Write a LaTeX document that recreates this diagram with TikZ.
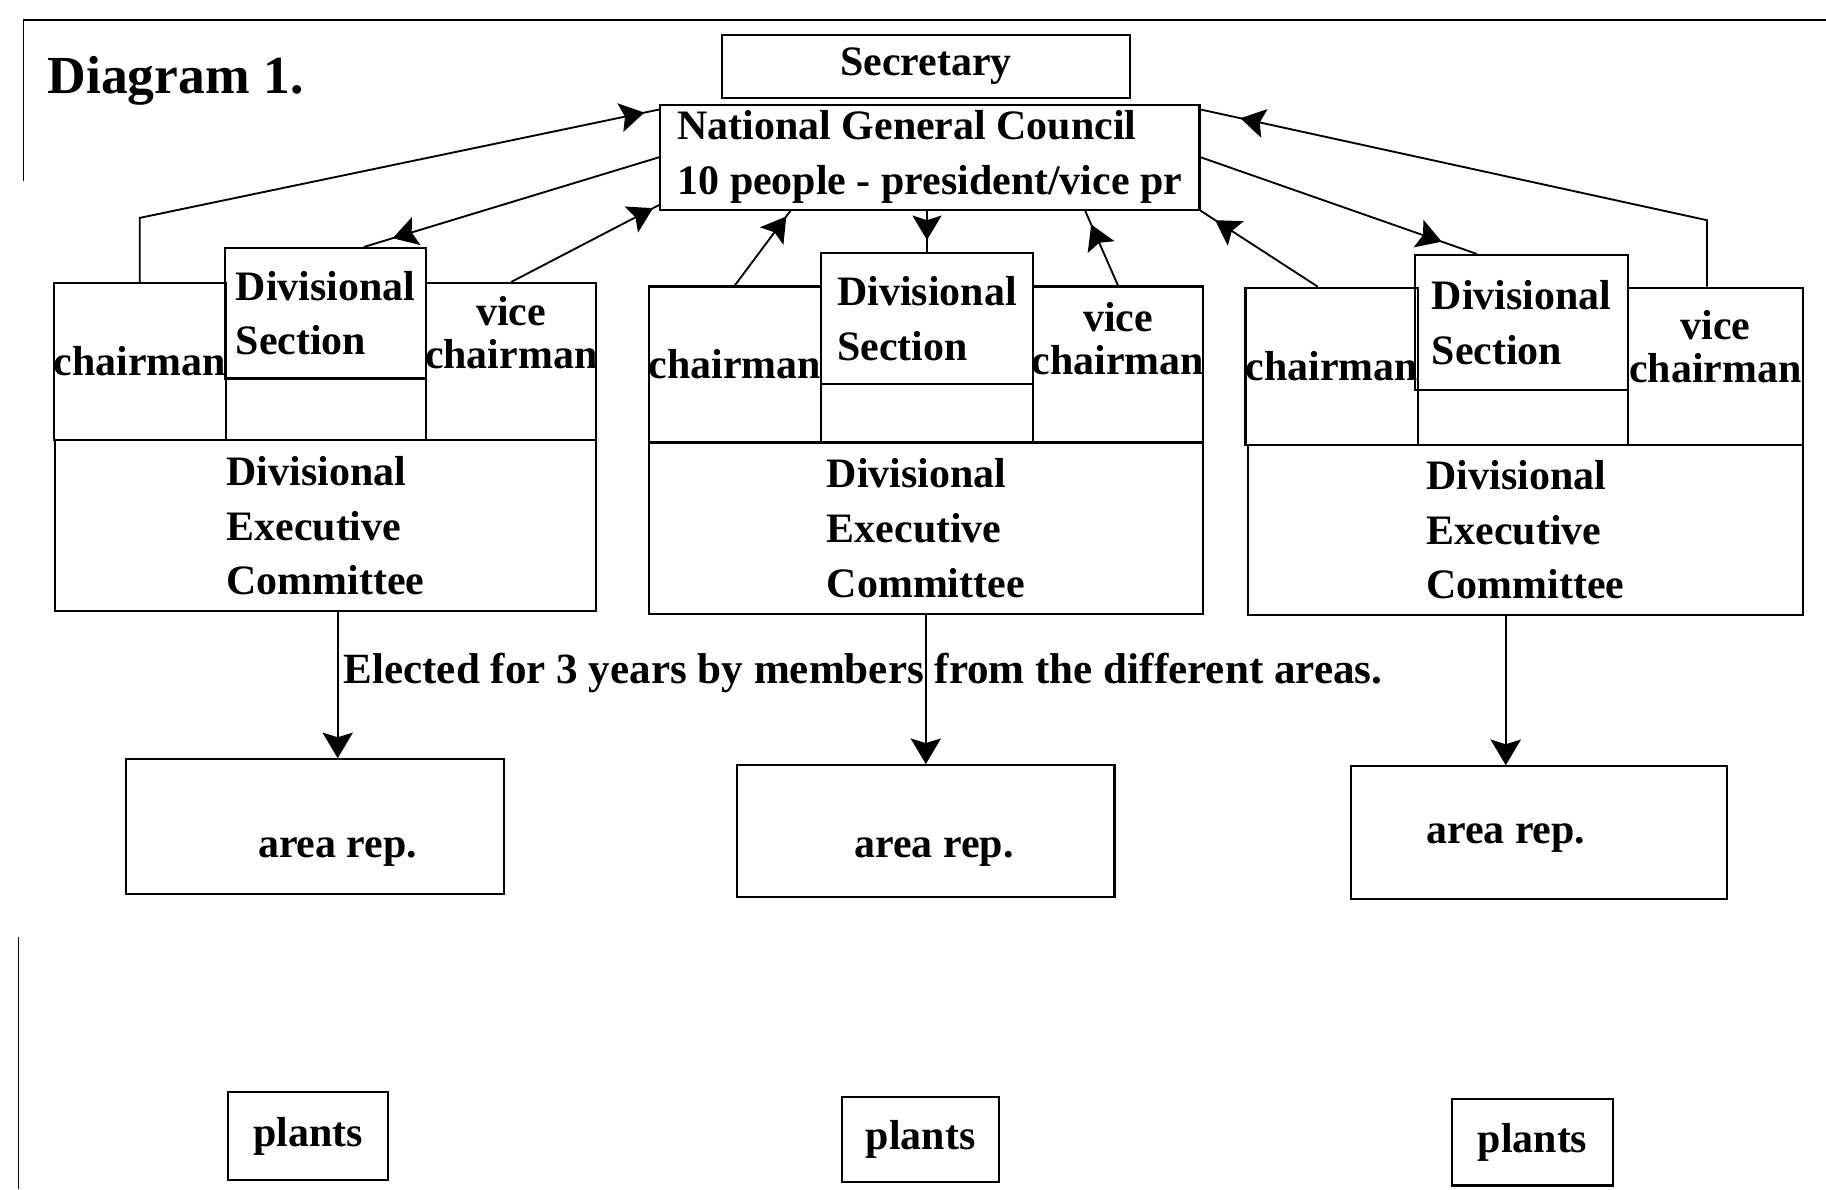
\documentclass[tikz,border=0pt]{standalone}
\usepackage{fontspec}
\setmainfont{Liberation Serif}
\usetikzlibrary{arrows.meta, decorations.markings}
\newcommand{\dgfont}{\fontsize{36}{47}\selectfont\bfseries}

\begin{document}
\begin{tikzpicture}[x=1pt, y=-1pt, line width=1.8pt,
    every node/.style={font=\dgfont, inner sep=2pt},
    box/.style args={#1x#2}{draw, minimum width=#1, minimum height=#2},
    vicetxt/.style={align=center, font=\fontsize{36}{37}\selectfont\bfseries},
    tipline/.style={line width=1.6pt, postaction={decorate},
        decoration={markings, mark=at position #1 with {\arrow{Stealth[length=21pt,width=25pt,inset=4pt]}}}},
    downline/.style={line width=1.6pt, -{Stealth[length=22pt,width=26pt,inset=4pt]}}]
    \useasboundingbox (0,0) rectangle (1568,1021);

    % Frame and title
    \draw (20,17) -- (1568,17);
    \draw[line width=0.8pt] (20,17) -- (20,155);
    \draw[line width=1.2pt] (16,805) -- (16,1021);
    \node[anchor=base west, font=\fontsize{46}{55}\selectfont\bfseries] (title) at (38,80) {Diagram 1.};

    % National level
    \node[box=350x54] (sec) at (795,57) {Secretary};
    \node[box=463x90, align=left, inner xsep=0pt] (ngc) at (798.5,135) {National General Council\\10 people - president/vice pr};

    % Left division
    \node[box=146x135, inner xsep=0pt] (chL) at (120,310.5) {chairman};
    \node[box=173x112, align=left] (dsL) at (279.5,269) {Divisional\\Section};
    \node[box=146x135] (vcL) at (439,310.5) {};
    \node[vicetxt] (tvcL) at (439,286) {vice\\chairman};
    \node[box=465x147, align=left] (decL) at (279.5,451.5) {Divisional\\Executive\\Committee};

    % Middle division
    \node[box=148x134, inner xsep=0pt] (chM) at (631,313) {chairman};
    \node[box=182x113, align=left] (dsM) at (796,273.5) {Divisional\\Section};
    \node[box=146x134] (vcM) at (960,313) {};
    \node[vicetxt] (tvcM) at (960,291) {vice\\chairman};
    \node[box=476x147, align=left] (decM) at (795,453.5) {Divisional\\Executive\\Committee};

    % Right division
    \node[box=143x135, inner xsep=0pt] (chR) at (1143.5,314.5) {chairman};
    \node[box=183x116, align=left] (dsR) at (1306.5,277) {Divisional\\Section};
    \node[box=150x135] (vcR) at (1473,314.5) {};
    \node[vicetxt] (tvcR) at (1473,298) {vice\\chairman};
    \node[box=476x146, align=left] (decR) at (1310,455) {Divisional\\Executive\\Committee};

    % Links to the council
    \draw[tipline=-13pt] (chL.north) -- ++(0,-55) -- (ngc.170);
    \draw[tipline=-26pt] (ngc.west) -- (dsL.60);
    \draw[tipline=-6pt] (vcL.north) -- (ngc.190);
    \draw[tipline=-6pt] (chM.north) -- (ngc.201);
    \draw[tipline=-10pt] (dsM.north |- ngc.south) -- (dsM.north);
    \draw[tipline=-13pt] (vcM.north) -- (ngc.341);
    \draw[tipline=-15pt] (chR.100) -- (ngc.south east);
    \draw[tipline=-32pt] (ngc.east) -- (dsR.123);
    \draw[tipline=-35pt] (vcR.96) -- ++(0,-57) -- (ngc.10);

    % Areas
    \node[font=\fontsize{37}{47}\selectfont\bfseries] (elect) at (741,578) {Elected for 3 years by members from the different areas.};
    \node[box=325x116] (areaL) at (270.5,710) {};
    \node (tareaL) at (290,732) {area rep.};
    \node[box=324x113] (areaM) at (795,713.5) {};
    \node (tareaM) at (802,732) {area rep.};
    \node[box=323x114] (areaR) at (1321.5,715) {};
    \node (tareaR) at (1293,720) {area rep.};

    \draw[downline] (tareaL |- decL.south) -- (tareaL |- areaL.north);
    \draw[downline] (decM.south) -- (areaM.north);
    \draw[downline] (tareaR |- decR.south) -- (tareaR |- areaR.north);

    % Plants
    \node[box=137x75] (plL) at (264.5,975.5) {plants};
    \node[box=135x73] (plM) at (790.5,978.5) {plants};
    \node[box=138x74] (plR) at (1316,981) {plants};
\end{tikzpicture}
\end{document}
